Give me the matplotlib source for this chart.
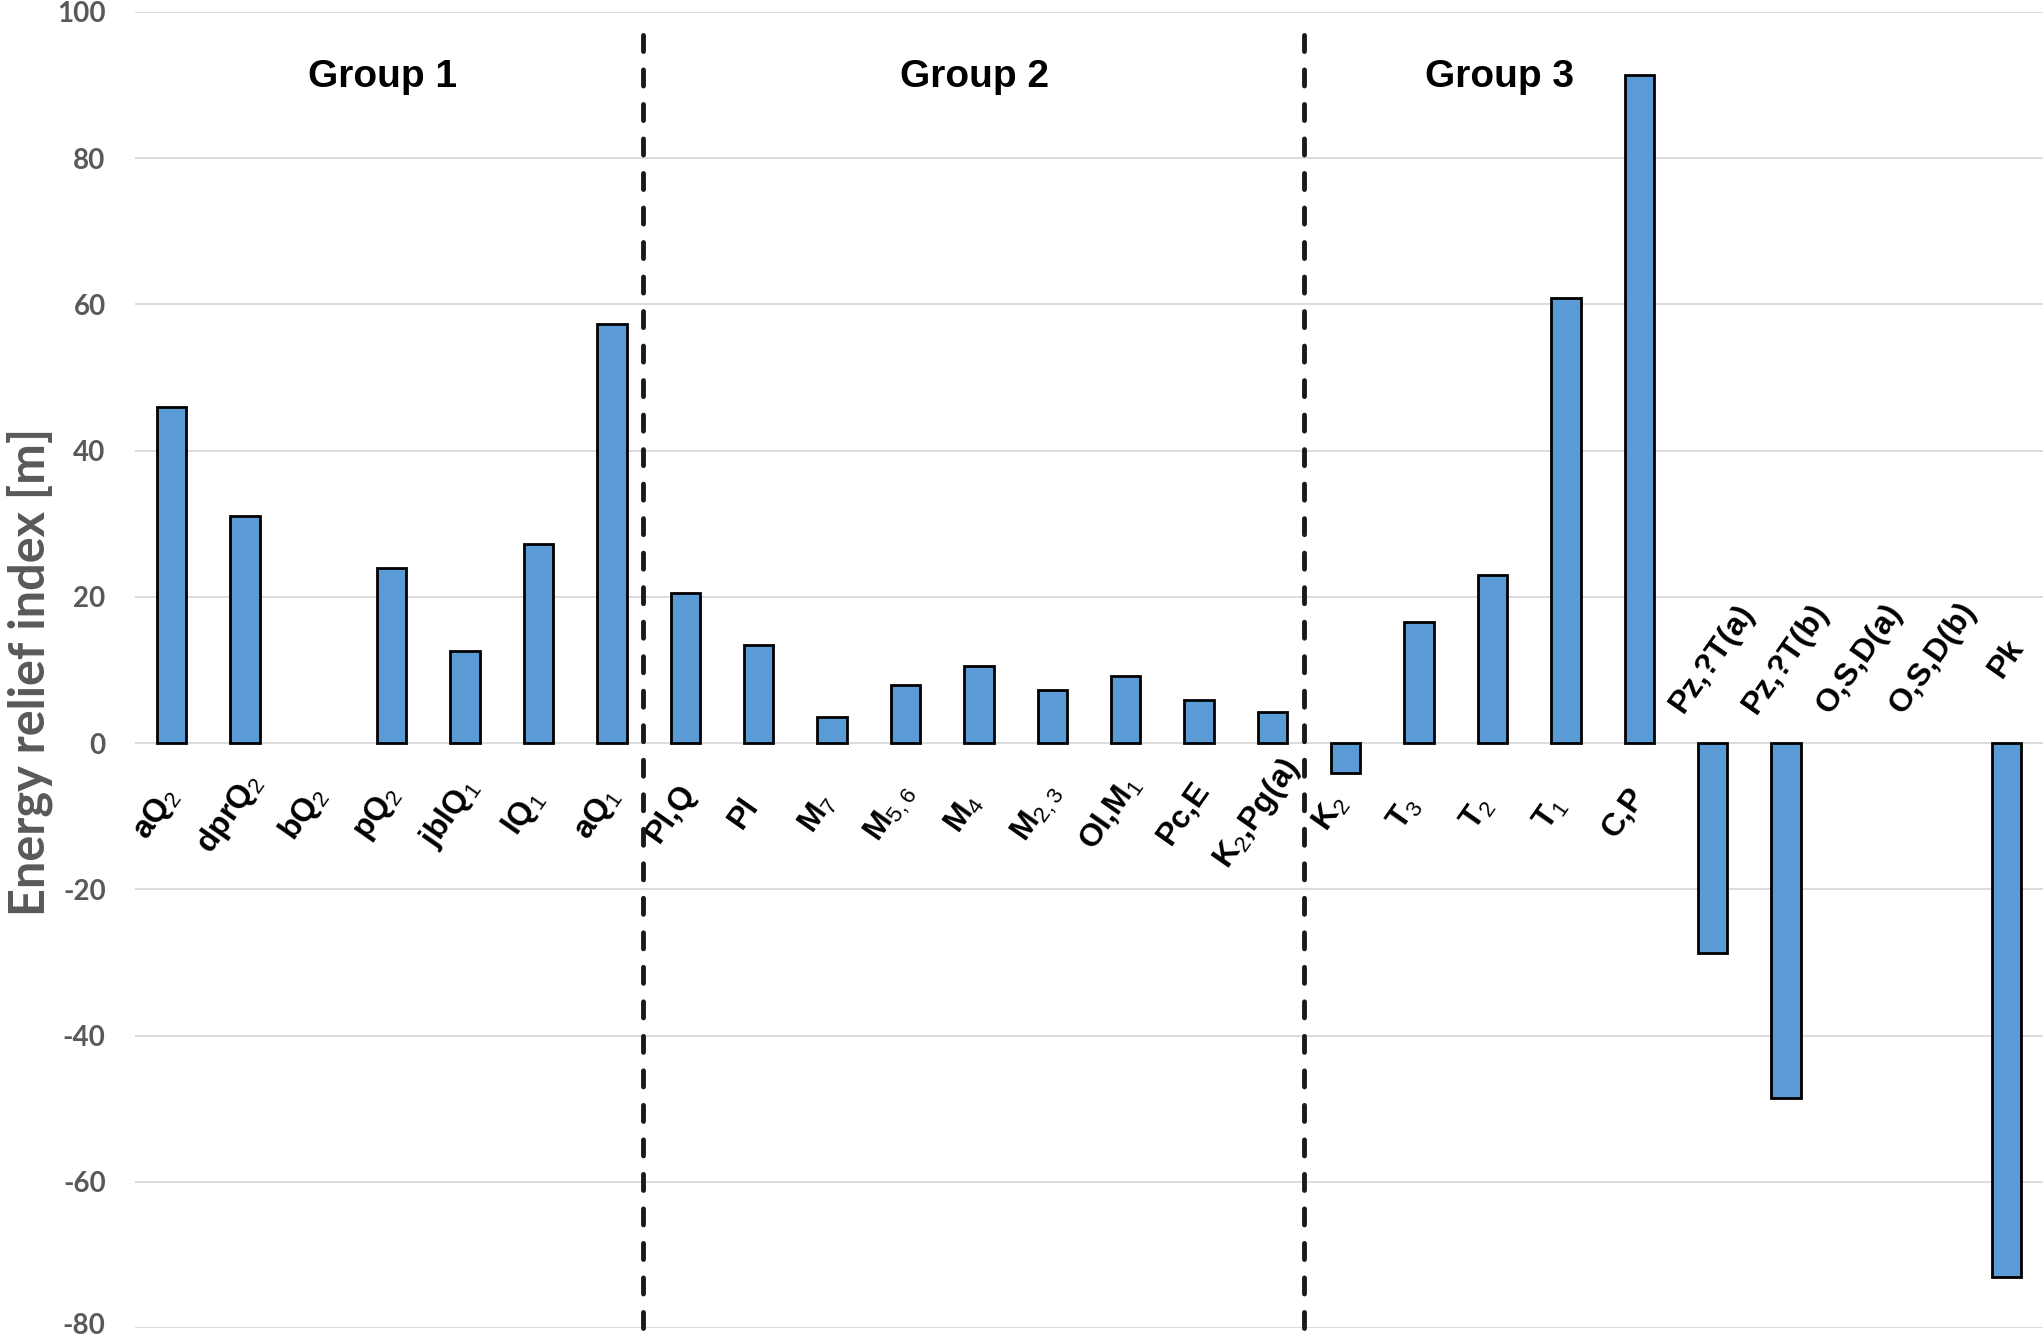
import matplotlib
matplotlib.use("Agg")
import matplotlib.pyplot as plt
import matplotlib.transforms as mtransforms
import numpy as np

plt.rcParams['mathtext.fontset'] = 'custom'
plt.rcParams['mathtext.rm'] = 'Liberation Sans'
plt.rcParams['mathtext.it'] = 'Liberation Sans:italic'
plt.rcParams['mathtext.bf'] = 'Liberation Sans:bold'
plt.rcParams['axes.unicode_minus'] = False

# ---- data ----
labels = ['aQ$_2$', 'dprQ$_2$', 'bQ$_2$', 'pQ$_2$', 'jblQ$_1$', 'lQ$_1$', 'aQ$_1$',
          'Pl,Q', 'Pl', 'M$_7$', 'M$_{5,6}$', 'M$_4$', 'M$_{2,3}$', 'Ol,M$_1$', 'Pc,E',
          'K$_2$,Pg(a)', 'K$_2$', 'T$_3$', 'T$_2$', 'T$_1$', 'C,P',
          'Pz,?T(a)', 'Pz,?T(b)', 'O,S,D(a)', 'O,S,D(b)', 'Pk']
values = [45.9, 31.0, 0.0, 23.9, 12.6, 27.2, 57.3,
          20.5, 13.4, 3.6, 8.0, 10.5, 7.3, 9.1, 5.9,
          4.3, -4.1, 16.6, 23.0, 60.9, 91.4,
          -28.7, -48.6, 0.0, 0.0, -73.0]
groups = ['Group 1', 'Group 2', 'Group 3']
group_x = [2.88, 10.94, 18.1]
separators = [6.42, 15.43]
n_label_below = 21   # labels of the last five columns sit above the zero line

x = np.arange(len(labels))

fig = plt.figure(figsize=(20.43, 13.39), dpi=100)
ax = fig.add_axes([0.066, 0.0082, 0.934, 0.983])

# empty (zero) columns get no outline
edge_w = [2.0 if v != 0 else 0 for v in values]
ax.bar(x, values, width=0.4, color='#5B9BD5', edgecolor='black', linewidth=edge_w, zorder=3)

ax.set_xlim(-0.5, len(labels) - 0.5)
ax.set_ylim(-80, 100)
ax.set_yticks(np.arange(-80, 101, 20))
ax.set_xticks([])
ax.grid(True, axis='y', color='#d9d9d9', linewidth=1.3, zorder=0)
for s in ax.spines.values():
    s.set_visible(False)
ax.tick_params(axis='y', length=0, pad=21, labelcolor='#595959')
for t in ax.get_yticklabels():
    t.set_fontfamily('Lato')
    t.set_fontweight('bold')
    t.set_fontsize(20)
# nudge the bottom label up a little so it stays inside the figure
bottom_lab = ax.get_yticklabels()[0]
bottom_lab.set_transform(bottom_lab.get_transform() +
                         mtransforms.ScaledTranslation(0, 5 / 100, fig.dpi_scale_trans))

# category labels, rotated
for i, lab in enumerate(labels):
    if i < n_label_below:
        ax.text(i - 0.2, -9.6, lab, rotation=55, ha='center', va='center',
                fontsize=23, fontweight='bold', family='Liberation Sans', zorder=4)
    else:
        ax.text(i, 11.6, lab, rotation=55, ha='center', va='center',
                fontsize=23, fontweight='bold', family='Liberation Sans', zorder=4)

# group separators
for sx in separators:
    ax.plot([sx, sx], [-80, 99], color='#1a1a1a', linewidth=3.5,
            linestyle=(0, (3.3, 3.8)), dash_capstyle='round', zorder=5, clip_on=False)

for gx, g in zip(group_x, groups):
    ax.text(gx, 91.1, g, ha='center', va='center', fontsize=28,
            fontweight='bold', family='Liberation Sans')

fig.text(30 / 2043, 0.498, 'Energy relief index [m]', rotation=90, ha='center', va='center',
         fontsize=35, fontweight='bold', family='Lato', color='#595959')

fig.savefig('out.png', dpi=100)
